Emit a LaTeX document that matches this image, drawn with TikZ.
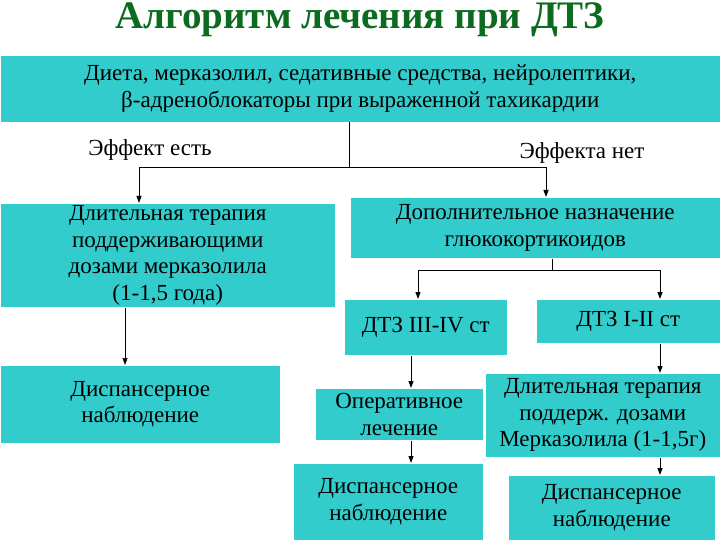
\documentclass[tikz,border=0pt]{standalone}
\usepackage{fontspec}
\setmainfont{Liberation Serif}
\newfontfamily\boxfont{Liberation Serif}
\usetikzlibrary{arrows.meta}
\definecolor{tq}{HTML}{33CCCC}
\definecolor{tg}{HTML}{0B6B1E}
\tikzset{box/.style={fill=tq,draw=white,line width=0.5pt,inner sep=0pt,align=center,font=\boxfont\fontsize{23}{26.5}\selectfont},
 conn/.style={draw=black,line width=1pt,-{Triangle[length=7pt,width=5pt]}},
 lbl/.style={font=\boxfont\fontsize{23}{26}\selectfont,inner sep=0pt}}
\begin{document}
\begin{tikzpicture}[x=1pt,y=-1pt]
\useasboundingbox (0,0) rectangle (720,540);
\fill[white] (0,0) rectangle (720,540);
\node[font=\boxfont\bfseries\fontsize{39}{40}\selectfont,text=tg] (title) at (360,20) {Алгоритм лечения при ДТЗ};
\node[box,minimum width=720,minimum height=67,anchor=north west] (top) at (0,55) {Диета, мерказолил, седативные средства, нейролептики,\\β-адреноблокаторы при выраженной тахикардии};
\node[lbl] (yes) at (150,150) {Эффект есть};
\node[lbl] (no) at (582,153) {Эффекта нет};
\node[box,minimum width=335,minimum height=104,anchor=north west] (l1) at (0,203) {Длительная терапия\\поддерживающими\\дозами мерказолила\\(1-1,5 года)};
\node[box,minimum width=370,minimum height=61,anchor=north west] (r1) at (350,197) {Дополнительное назначение\\глюкокортикоидов};
\node[box,minimum width=163,minimum height=56,anchor=north west] (s34) at (344,299) {ДТЗ III-IV ст};
\node[box,minimum width=184,minimum height=44,anchor=north west] (s12) at (536,299) {ДТЗ I-II ст};
\node[box,minimum width=280,minimum height=78,anchor=north west] (l2) at (0,365) {Диспансерное\\наблюдение};
\node[box,minimum width=168,minimum height=52,anchor=north west] (op) at (315,388) {Оперативное\\лечение};
\node[box,minimum width=235,minimum height=84,anchor=north west] (r2) at (485,373) {Длительная терапия\\поддерж. дозами\\Мерказолила (1-1,5г)};
\node[box,minimum width=190,minimum height=77,anchor=north west] (m3) at (293,463) {Диспансерное\\наблюдение};
\node[box,minimum width=207,minimum height=65,anchor=north west] (r3) at (508,475) {Диспансерное\\наблюдение};
\coordinate (j1) at (349,168);
\coordinate (j2) at (552,270);
\draw[line width=0.8pt] (top.south -| j1) -- (j1);
\draw[conn] (j1) -| (l1.north -| 139,0);
\draw[conn] (j1) -| (r1.north -| 546,0);
\draw[line width=0.8pt] (r1.south -| j2) -- (j2);
\draw[conn] (j2) -| (s34.north -| 418,0);
\draw[conn] (j2) -| (s12.north -| 660,0);
\draw[conn,line width=0.6pt] (l1.south -| 125,0) -- (l2.north -| 125,0);
\draw[conn] (s34.south -| 411,0) -- (op.north -| 411,0);
\draw[conn] (op.south -| 411,0) -- (m3.north -| 411,0);
\draw[conn] (s12.south -| 660,0) -- (r2.north -| 660,0);
\draw[conn] (r2.south -| 660,0) -- (r3.north -| 660,0);
\end{tikzpicture}
\end{document}
